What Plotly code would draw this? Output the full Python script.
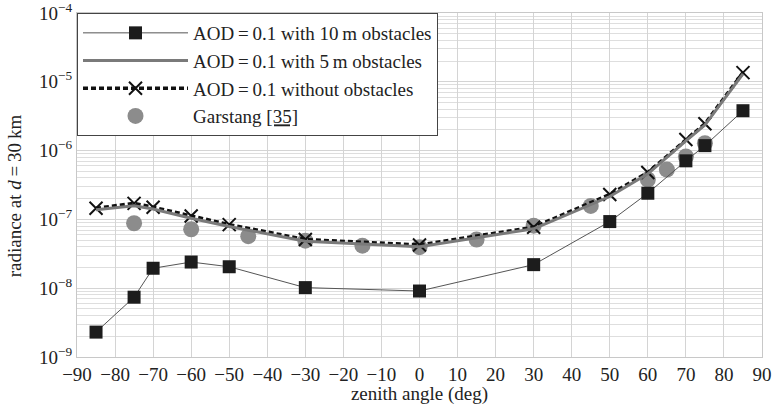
import plotly.graph_objects as go

# data
angles_10m = [-85, -75, -70, -60, -50, -30, 0, 30, 50, 60, 70, 75, 85]
rad_10m = [2.3e-9, 7.4e-9, 1.95e-8, 2.4e-8, 2.05e-8, 1.02e-8, 9.1e-9, 2.2e-8, 9.3e-8, 2.4e-7, 7.1e-7, 1.18e-6, 3.8e-6]

angles_5m = [-85, -75, -70, -60, -50, -30, 0, 30, 50, 60, 70, 75, 85]
rad_5m = [1.38e-7, 1.58e-7, 1.42e-7, 1.04e-7, 7.9e-8, 4.8e-8, 4.0e-8, 7.3e-8, 2.15e-7, 4.6e-7, 1.38e-6, 2.35e-6, 1.3e-5]

angles_free = [-85, -75, -70, -60, -50, -30, 0, 30, 50, 60, 70, 75, 85]
rad_free = [1.45e-7, 1.71e-7, 1.5e-7, 1.12e-7, 8.4e-8, 5.1e-8, 4.25e-8, 7.7e-8, 2.3e-7, 4.8e-7, 1.45e-6, 2.45e-6, 1.36e-5]

angles_garstang = [-75, -60, -45, -30, -15, 0, 15, 30, 45, 60, 65, 70, 75]
rad_garstang = [8.8e-8, 7.2e-8, 5.7e-8, 4.9e-8, 4.15e-8, 3.95e-8, 5.1e-8, 8.1e-8, 1.57e-7, 3.8e-7, 5.3e-7, 8.2e-7, 1.28e-6]

y_tick_vals = [1e-9, 1e-8, 1e-7, 1e-6, 1e-5, 1e-4]
y_tick_text = ["10<sup>\u22129</sup>", "10<sup>\u22128</sup>", "10<sup>\u22127</sup>",
               "10<sup>\u22126</sup>", "10<sup>\u22125</sup>", "10<sup>\u22124</sup>"]
x_tick_vals = list(range(-90, 91, 10))

minor_vals = [m * 10.0 ** e for e in range(-9, -4) for m in range(2, 10)]

FONT = "'Liberation Serif', 'Times New Roman', 'DejaVu Serif', serif"
EQ = "\u2009=\u2009"

fig = go.Figure()

fig.add_trace(go.Scatter(
    x=angles_garstang, y=rad_garstang, mode="markers",
    name='Garstang <span style="text-decoration:underline">[35]</span>',
    marker=dict(symbol="circle", size=16, color="#8c8c8c"),
    legendrank=4,
))
fig.add_trace(go.Scatter(
    x=angles_free, y=rad_free, mode="lines+markers",
    name="AOD" + EQ + "0.1 without obstacles",
    line=dict(color="#111111", width=3.5, dash="5px,3px"),
    marker=dict(symbol="x-thin", size=13, color="#111111",
                line=dict(width=2, color="#111111")),
    legendrank=3,
))
fig.add_trace(go.Scatter(
    x=angles_5m, y=rad_5m, mode="lines",
    name="AOD" + EQ + "0.1 with 5\u2009m obstacles",
    line=dict(color="#7a7a7a", width=3),
    legendrank=2,
))
fig.add_trace(go.Scatter(
    x=angles_10m, y=rad_10m, mode="lines+markers",
    name="AOD" + EQ + "0.1 with 10\u2009m obstacles",
    line=dict(color="#555555", width=1),
    marker=dict(symbol="square", size=13, color="#1c1c1c"),
    legendrank=1,
))

fig.update_layout(
    width=773, height=405,
    margin=dict(l=77, r=11, t=13, b=48, autoexpand=False),
    paper_bgcolor="white", plot_bgcolor="white",
    font=dict(family=FONT, size=19, color="#222222"),
    showlegend=True,
    legend=dict(
        x=0, y=1, xanchor="left", yanchor="top",
        bgcolor="white", bordercolor="#444444", borderwidth=1,
        font=dict(family=FONT, size=19, color="#222222"),
        itemwidth=105, tracegroupgap=0,
    ),
    annotations=[dict(
        text="radiance at <i>d</i>" + EQ + "30\u2009km",
        xref="paper", yref="paper", x=-0.092, y=0.47,
        xanchor="center", yanchor="middle", textangle=-90,
        showarrow=False, font=dict(family=FONT, size=19, color="#222222"),
    )],
)

fig.update_xaxes(
    range=[-90, 90], tickvals=x_tick_vals,
    showgrid=True, gridcolor="#d4d4d4", gridwidth=1,
    showline=True, linecolor="#c8c8c8", linewidth=1, mirror=True,
    zeroline=False, ticks="", automargin=False,
    title=dict(text="zenith angle (deg)", font=dict(family=FONT, size=19), standoff=1),
    tickfont=dict(family=FONT, size=19),
    ticklabeloverflow="allow",
)
fig.update_yaxes(
    type="log", range=[-9, -4],
    tickvals=y_tick_vals, ticktext=y_tick_text,
    showgrid=True, gridcolor="#d4d4d4", gridwidth=1,
    minor=dict(tickvals=minor_vals, showgrid=True, gridcolor="#dedede", gridwidth=1, ticks=""),
    showline=True, linecolor="#c8c8c8", linewidth=1, mirror=True,
    zeroline=False, ticks="", automargin=False,
    tickfont=dict(family=FONT, size=19),
    ticklabeloverflow="allow",
)

fig.write_html("out.html")
